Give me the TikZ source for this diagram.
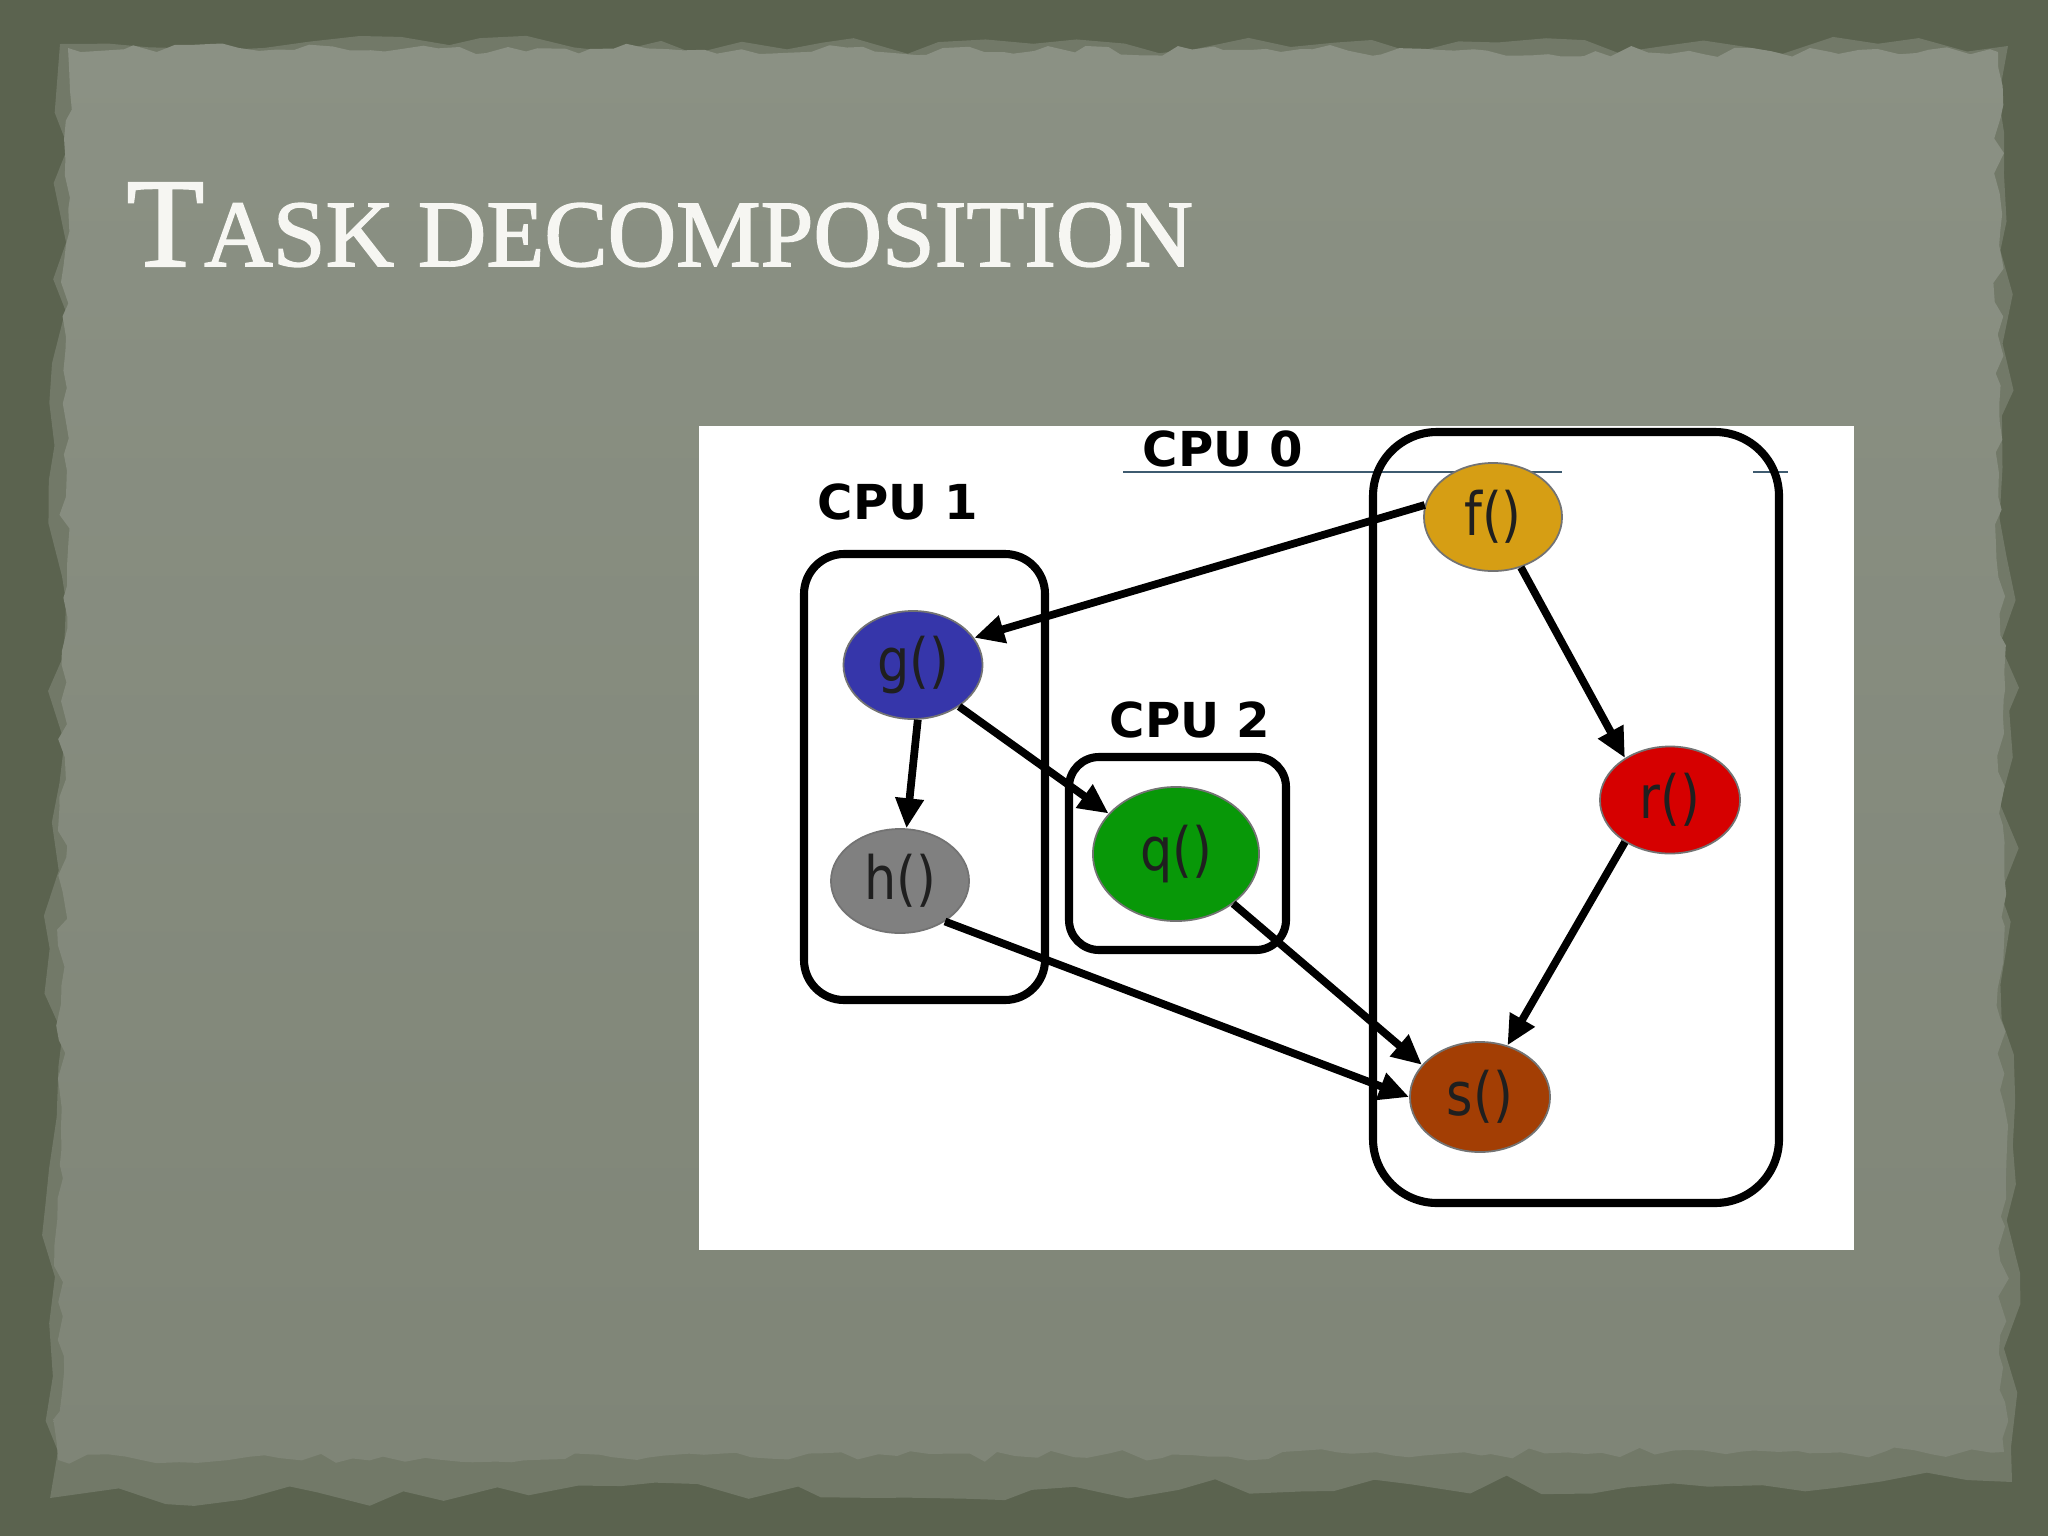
\documentclass[tikz,border=0pt]{standalone}
\usepackage{fontspec}
\setmainfont{Liberation Serif}
\newfontfamily\titlefont[FakeBold=1.6]{Liberation Serif}
\newfontfamily\labfont{DejaVu Sans}
\newfontfamily\nodefont[FakeStretch=0.85]{DejaVu Sans}
\usetikzlibrary{arrows.meta,shapes.geometric,decorations.pathmorphing}
\definecolor{outerbg}{HTML}{5B634F}
\definecolor{stripbg}{HTML}{727968}
\definecolor{panelA}{HTML}{8B9184}
\definecolor{panelB}{HTML}{7F8577}
\definecolor{titlewhite}{HTML}{F6F6F2}
\definecolor{ulc}{HTML}{3E5B70}
\definecolor{fcol}{RGB}{214,158,20}
\definecolor{rcol}{RGB}{214,0,0}
\definecolor{scol}{RGB}{163,62,4}
\definecolor{gcol}{RGB}{54,54,170}
\definecolor{hcol}{RGB}{128,128,128}
\definecolor{qcol}{RGB}{8,152,8}
\tikzset{
  cpulabel/.style={inner sep=0pt, font=\labfont\bfseries\fontsize{13.7}{16}\selectfont, text=black},
  cpubox/.style={draw=black, line width=2.3pt},
  task/.style={ellipse, inner sep=0pt, draw=black!55, line width=0.5pt,
    font=\nodefont\fontsize{17}{20}\selectfont, text=black!88},
  edge/.style={draw=black, line width=2.2pt, -{Triangle[length=0.3cm,width=0.27cm]}},
  torn/.style={decorate, decoration={random steps, segment length=5pt, amplitude=1.6pt}},
  tornwide/.style={decorate, decoration={random steps, segment length=12pt, amplitude=3pt}}
}
\begin{document}
\begin{tikzpicture}[x=0.01cm,y=-0.01cm]
\useasboundingbox (0,0) rectangle (2048,1536);
% slide background
\fill[outerbg] (0,0) rectangle (2048,1536);
\pgfmathsetseed{11}
\fill[stripbg, tornwide] (60,44) -- (2008,46) -- (2012,1482) -- (50,1498) -- cycle;
\shade[top color=panelA, bottom color=panelB, torn] (68,48) -- (1998,52) -- (2004,1452) -- (58,1460) -- cycle;
% title
\node[anchor=base west, inner sep=0pt, text=titlewhite, font=\titlefont] (title) at (126,266)
  {{\fontsize{36.1}{40}\selectfont T}{\fontsize{27}{30}\selectfont ASK DECOMPOSITION}};
% picture
\fill[white] (699,426) rectangle (1854,1250);
\begin{scope}
\clip (699,426) rectangle (1854,1250);
\draw[ulc, line width=0.6pt] (1123,472) -- (1562,472);
\draw[ulc, line width=0.6pt] (1753,472) -- (1788,472);
\draw[cpubox, rounded corners=0.64cm] (1373,432) rectangle (1779,1203);
\draw[cpubox, rounded corners=0.40cm] (804,554) rectangle (1045,1000);
\draw[cpubox, rounded corners=0.30cm] (1069,757) rectangle (1286,950);
\node[cpulabel] (l0) at (1223,449) {CPU 0};
\node[cpulabel] (l1) at (898,502) {CPU 1};
\node[cpulabel] (l2) at (1190,720) {CPU 2};
\node[task, fill=fcol, minimum width=1.38cm, minimum height=1.08cm] (f) at (1493,517) {f()};
\node[task, fill=rcol, minimum width=1.40cm, minimum height=1.07cm] (r) at (1670,800) {r()};
\node[task, fill=scol, minimum width=1.40cm, minimum height=1.10cm] (s) at (1480,1097) {s()};
\node[task, fill=gcol, minimum width=1.39cm, minimum height=1.08cm] (g) at (913,665) {g()};
\node[task, fill=hcol, minimum width=1.38cm, minimum height=1.04cm] (h) at (900,881) {h()};
\node[task, fill=qcol, minimum width=1.66cm, minimum height=1.34cm] (q) at (1176,854) {q()};
\draw[edge] (f.170) -- (g.24);
\draw[edge] (g.-85) -- (h.83);
\draw[edge] (g.-42) -- (q.149);
\draw[edge] (h.-42) -- (s.180);
\draw[edge] (q.-41) -- (s.151);
\draw[edge] (f.-61) -- (r.137);
\draw[edge] (r.-137) -- (s.62);
\end{scope}
\end{tikzpicture}
\end{document}
